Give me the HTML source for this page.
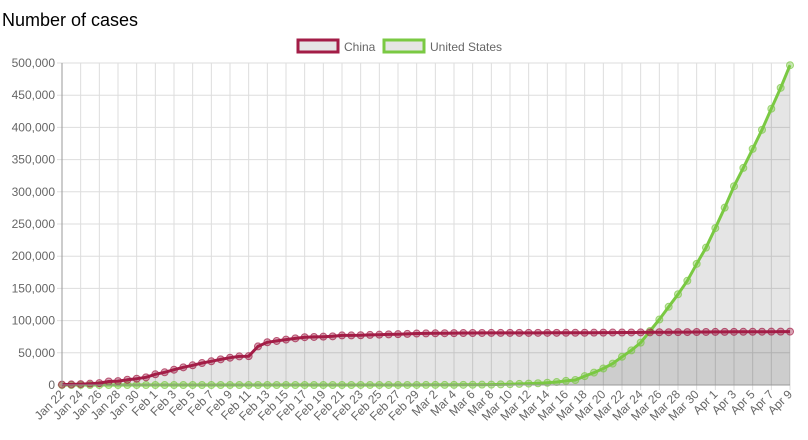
<!DOCTYPE html>
<html><head><meta charset="utf-8"><style>
body{margin:0;background:#fff;font-family:"Liberation Sans",Arial,sans-serif}
svg text{font-family:"Liberation Sans",Arial,sans-serif}
</style></head><body>
<svg id="chart" width="808" height="435" xmlns="http://www.w3.org/2000/svg">
<text x="2" y="26" font-size="18" fill="#000">Number of cases</text>
<g>
<g><rect x="298" y="40" width="40" height="12" fill="#e5e5e5" stroke="#a31d47" stroke-width="3"/><text x="344" y="51" font-size="12" fill="#666">China</text></g>
<g><rect x="384" y="40" width="40" height="12" fill="#e5e5e5" stroke="#7ac943" stroke-width="3"/><text x="430" y="51" font-size="12" fill="#666">United States</text></g>
</g>
<g id="grid"></g>
<g id="areas"></g>
<g id="lines"></g>
<g id="axes"></g>
</svg>
<script>
const yTicks=[0,50000,100000,150000,200000,250000,300000,350000,400000,450000,500000];
const months=[["Jan",22,31],["Feb",1,29],["Mar",1,31],["Apr",1,9]];
const china=[643,920,1406,2075,2877,5509,6087,8141,9802,11891,16630,19716,23707,27440,30587,34110,36814,39829,42354,44386,44759,59895,66358,68413,70513,72434,74211,74619,75077,75550,77001,77022,77241,77754,78166,78600,78928,79356,79932,80136,80261,80386,80537,80690,80770,80823,80860,80887,80921,80932,80945,80977,81003,81033,81058,81102,81156,81250,81305,81435,81498,81591,81661,81782,81897,81999,82122,82198,82279,82361,82432,82511,82543,82602,82665,82718,82809,82883,82941];
const us=[1,2,2,5,5,5,5,5,7,8,8,11,11,11,11,11,11,11,11,12,12,13,13,13,13,13,13,13,13,15,15,15,51,51,57,58,60,68,74,98,118,149,217,262,402,518,583,959,1281,1663,2179,2727,3499,4632,6421,7783,13747,19273,25600,33276,43847,53740,65778,83836,101657,121465,140909,161831,188172,213242,243622,275367,308650,337072,366667,396223,429052,461437,496535];
const cats=[];months.forEach(m=>{for(let d=m[1];d<=m[2];d++)cats.push(m[0]+" "+d);});
const L=62,R=790,T=63,B=385,yMax=500000;
const N=cats.length;
const xs=i=>L+(R-L)*i/(N-1);
const ys=v=>B-(B-T)*v/yMax;
const NS="http://www.w3.org/2000/svg";
function mk(tag,attrs,parent){const e=document.createElementNS(NS,tag);for(const k in attrs)e.setAttribute(k,attrs[k]);parent.appendChild(e);return e;}
const grid=document.getElementById('grid'),axes=document.getElementById('axes'),areas=document.getElementById('areas'),lines=document.getElementById('lines');
yTicks.forEach(t=>{
  const g=mk('line',{x1:L-5,x2:R,y1:ys(t),y2:ys(t),stroke:'#ddd','stroke-width':1},grid);
  
  
  const tx=mk('text',{x:L-7,y:ys(t)+4,'text-anchor':'end','font-size':12,fill:'#666'},axes);
  tx.textContent=t.toLocaleString('en-US');
  
  
});
cats.forEach((c,i)=>{
  if(i%2)return;
  const g=mk('line',{x1:xs(i),x2:xs(i),y1:T,y2:B+5,stroke:'#ddd','stroke-width':1},grid);
  
  
  const tx=mk('text',{x:xs(i)+3,y:B+10,'text-anchor':'end','font-size':12,fill:'#666',transform:`rotate(-45 ${xs(i)+3} ${B+10})`},axes);
  tx.textContent=c;
  
  
});
const ax=mk('line',{x1:L,x2:L,y1:T,y2:B,stroke:'#999'},axes);


const bx=mk('line',{x1:L,x2:R,y1:B,y2:B,stroke:'#999'},axes);


function series(data,color,name){
  const pts=data.map((v,i)=>xs(i).toFixed(1)+','+ys(v).toFixed(1));
  const a=mk('polygon',{points:L+','+B+' '+pts.join(' ')+' '+R+','+B,fill:'rgba(0,0,0,0.1)'},areas);
  
  
  const l=mk('polyline',{points:pts.join(' '),fill:'none',stroke:color,'stroke-width':3,'stroke-linejoin':'round'},lines);
  
  
  data.forEach((v,i)=>{
    const c=mk('circle',{cx:xs(i),cy:ys(v),r:3.5,fill:color,'fill-opacity':0.4,stroke:color,'stroke-opacity':0.7,'stroke-width':1},lines);
    
    
  });
}
series(us,'#7ac943','united-states');
series(china,'#a31d47','china');
</script>
</body></html>
